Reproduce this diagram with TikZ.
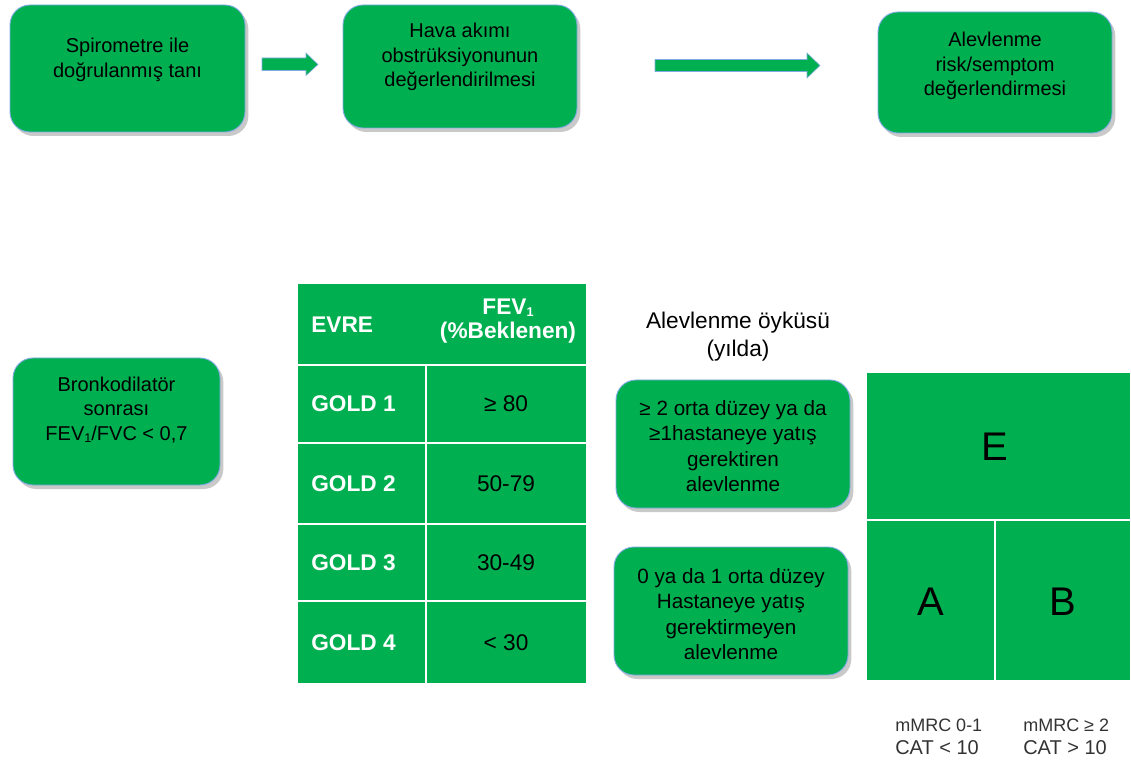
\documentclass[tikz,border=0pt]{standalone}
\usepackage{fontspec}
\setmainfont{Liberation Sans}
\usetikzlibrary{shadows,arrows.meta}
\definecolor{ggreen}{RGB}{0,176,80}
\definecolor{gedge}{RGB}{130,170,225}
\def\pu{0.75pt}
\newcommand{\subone}{{\fontsize{9.5pt}{10pt}\selectfont\raisebox{-0.25ex}{1}}}
\tikzset{
  gbox/.style={draw=gedge, line width=0.7pt, fill=ggreen, rounded corners=15pt,
    drop shadow={shadow xshift=2.5pt, shadow yshift=-3pt, opacity=0.3, fill=black!70},
    inner sep=0pt},
  btext/.style={align=center, text=black, font=\fontsize{15pt}{18.3pt}\selectfont, inner sep=0pt},
  ctext/.style={align=center, text=black, font=\fontsize{15.5pt}{19pt}\selectfont, inner sep=0pt},
  bigarrow/.style={draw=gedge, line width=0.4pt, fill=ggreen},
  hdr/.style={text=white, font=\bfseries\fontsize{17pt}{17.5pt}\selectfont, inner sep=0pt, align=center},
  lcell/.style={text=white, font=\bfseries\fontsize{17pt}{18pt}\selectfont, inner sep=0pt, anchor=west},
  rcell/.style={text=black, font=\fontsize{17pt}{18pt}\selectfont, inner sep=0pt},
  big/.style={text=black, font=\fontsize{30pt}{32pt}\selectfont, inner sep=0pt},
  axis/.style={text=black!80, align=left, inner sep=0pt, anchor=north west},
  grid/.style={white, line width=1.2pt}
}
\begin{document}
\begin{tikzpicture}[x=0.75pt, y=-0.75pt]
\useasboundingbox (0,0) rectangle (1131,766);

% top row boxes
\node[gbox, minimum width=235*\pu, minimum height=127*\pu] (b1) at (127.5,68.5) {};
\node[btext] (t1) at (127.5,60) {Spirometre ile\\doğrulanmış tanı};
\node[gbox, minimum width=234*\pu, minimum height=123*\pu] (b2) at (460,66.5) {};
\node[btext] (t2) at (460,57) {Hava akımı\\obstrüksiyonunun\\değerlendirilmesi};
\node[gbox, minimum width=234*\pu, minimum height=121*\pu] (b3) at (995,72.5) {};
\node[btext] (t3) at (995,66) {Alevlenme\\risk/semptom\\değerlendirmesi};

% arrows
\coordinate (a1s) at (262,64.5);
\coordinate (a1e) at (318,64.5);
\filldraw[bigarrow] (a1s) ++(0,-6.5) -- ++(44,0) -- ++(0,-5) -- (a1e) -- ++(-12,11) -- ++(0,-5) -- ++(-44,0) -- cycle;
\coordinate (a2s) at (655,65.5);
\coordinate (a2e) at (820,65.5);
\filldraw[bigarrow] (a2s) ++(0,-6) -- ++(152,0) -- ++(0,-6.5) -- (a2e) -- ++(-13,12.5) -- ++(0,-6.5) -- ++(-152,0) -- cycle;

% bronkodilator box
\node[gbox, minimum width=207*\pu, minimum height=127*\pu] (b4) at (116.5,421.5) {};
\node[btext] (t4) at (116.5,410) {Bronkodilatör\\sonrası\\FEV\subone/FVC < 0,7};

% table
\fill[ggreen] (298,284) rectangle (586,683);
\draw[grid] (298,365) -- (586,365);
\draw[grid] (298,443) -- (586,443);
\draw[grid] (298,524) -- (586,524);
\draw[grid] (298,601) -- (586,601);
\draw[grid] (426,365) -- (426,683);
\node[hdr, anchor=west] (h1) at (311,325) {EVRE};
\node[hdr] (h2) at (508,321) {FEV\subone\\(\%Beklenen)};
\node[lcell] (g1) at (311,404) {GOLD 1};
\node[lcell] (g2) at (311,484) {GOLD 2};
\node[lcell] (g3) at (311,563) {GOLD 3};
\node[lcell] (g4) at (311,643) {GOLD 4};
\node[rcell] (v1) at (506,404) {≥ 80};
\node[rcell] (v2) at (506,484) {50-79};
\node[rcell] (v3) at (506,563) {30-49};
\node[rcell] (v4) at (506,643) {< 30};

% alevlenme
\node[align=center, inner sep=0pt, font=\fontsize{17pt}{21pt}\selectfont] (al) at (738,337) {Alevlenme öyküsü\\(yılda)};
\node[gbox, minimum width=234*\pu, minimum height=128*\pu] (b5) at (733,444) {};
\node[ctext] (t5) at (733,446) {≥ 2 orta düzey ya da\\≥1hastaneye yatış\\gerektiren\\alevlenme};
\node[gbox, minimum width=234*\pu, minimum height=128*\pu] (b6) at (731,611) {};
\node[ctext] (t6) at (731,614) {0 ya da 1 orta düzey\\Hastaneye yatış\\gerektirmeyen\\alevlenme};

% grid
\fill[ggreen] (867,373) rectangle (1130,680);
\draw[grid] (867,520) -- (1130,520);
\draw[grid] (995,520) -- (995,680);
\node[big] (E) at (995,447) {E};
\node[big] (A) at (931,602) {A};
\node[big] (B) at (1063,602) {B};

% axis labels
\node[axis] (m1) at (895,719) {{\fontsize{13.5pt}{15pt}\selectfont mMRC 0-1}\\[5pt]{\fontsize{15pt}{16pt}\selectfont CAT < 10}};
\node[axis] (m2) at (1023,719) {{\fontsize{13.5pt}{15pt}\selectfont mMRC ≥ 2}\\[5pt]{\fontsize{15pt}{16pt}\selectfont CAT > 10}};
\end{tikzpicture}
\end{document}
